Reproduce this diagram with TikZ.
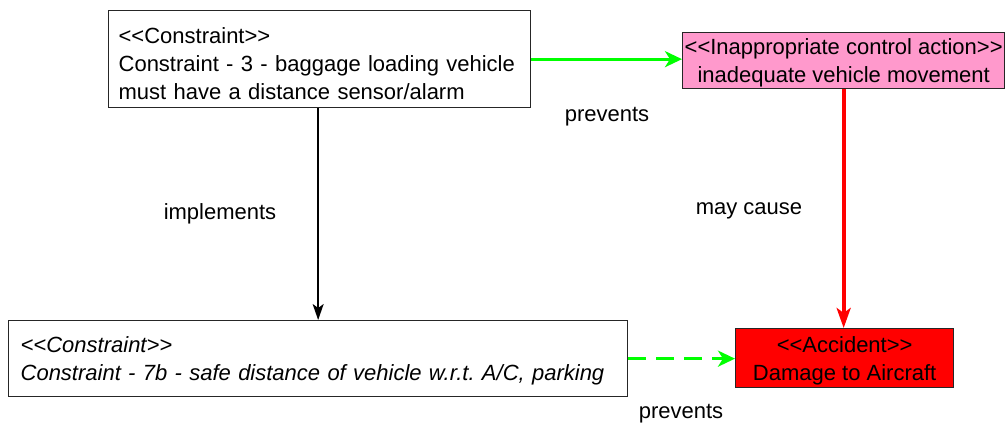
\documentclass[tikz,border=0pt]{standalone}
\usepackage{fontspec}
\setmainfont{Liberation Sans}
\usetikzlibrary{arrows.meta}
\definecolor{pinkbox}{HTML}{FF99CC}
\definecolor{brightgreen}{HTML}{00FF00}
\definecolor{brightred}{HTML}{FF0000}
\newcommand{\topstrut}[1][24pt]{\rule{0pt}{#1}}
\newcommand{\myopen}{<\kern0pt<}
\newcommand{\myclose}{>\kern0pt>}
\begin{document}
\begin{tikzpicture}[x=1pt,y=-1pt,
  every node/.style={font=\fontsize{22}{28}\selectfont\frenchspacing},
  box/.style={draw=black!85, line width=1.3pt, rectangle, inner ysep=0pt},
  lbl/.style={inner sep=0pt},
  greenarrow/.style={draw=brightgreen, line width=3pt, -{Stealth[length=17pt,width=16pt,inset=5pt]}},
  redarrow/.style={draw=brightred, line width=4pt, -{Stealth[length=20pt,width=14pt,inset=5pt]}},
  blackarrow/.style={draw=black, line width=1.4pt, -{Stealth[length=16pt,width=11pt,inset=4pt]}}
]
\useasboundingbox (0,0) rectangle (1007,432);
\fill[white] (0,0) rectangle (1007,432);

\node[box, anchor=north west, text width=402pt, inner xsep=10pt, minimum height=97pt, align=left] (A) at (108,10)
  {\topstrut\myopen Constraint\myclose\\Constraint - 3 - baggage loading vehicle\\must have a distance sensor/alarm};

\node[box, fill=pinkbox, anchor=north west, minimum width=322pt, minimum height=56pt, inner xsep=0pt, align=center] (B) at (682,32)
  {\topstrut[20pt]\myopen Inappropriate control action\myclose\\inadequate vehicle movement};

\node[box, anchor=north west, text width=595pt, inner xsep=12pt, minimum height=76pt, align=left, font=\fontsize{22}{28}\selectfont\itshape\frenchspacing] (C) at (8,320)
  {\topstrut[20pt]\myopen Constraint\myclose\\Constraint - 7b - safe distance of vehicle w.r.t. A/C, parking};

\node[box, fill=brightred, anchor=north west, minimum width=218pt, minimum height=59pt, inner xsep=0pt, align=center] (D) at (735,328)
  {\topstrut[21pt]\myopen Accident\myclose\\Damage to Aircraft};

\draw[greenarrow] (A.east) -- (A.east -| B.west);
\draw[redarrow] (B.south) -- (B.south |- D.north);
\draw[blackarrow] (A.south -| C.north) -- (C.north);
\draw[greenarrow, dash pattern=on 18pt off 10pt] (C.east) -- (C.east -| D.west);

\node[lbl] (l1) at (607,117) {prevents};
\node[lbl] (l2) at (749,211) {may cause};
\node[lbl] (l3) at (220,214) {implements};
\node[lbl] (l4) at (681,414) {prevents};
\end{tikzpicture}
\end{document}
